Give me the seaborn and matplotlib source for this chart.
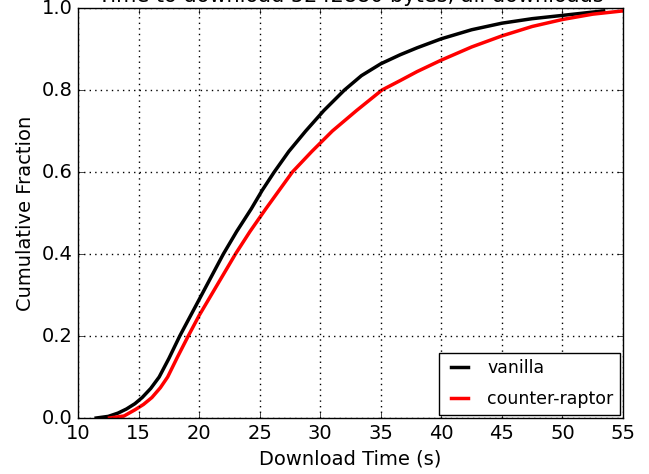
import matplotlib

matplotlib.use("Agg")
import matplotlib.pyplot as plt
import pandas as pd
import seaborn as sns

# CDF points: download time (s) vs cumulative fraction
vanilla_time = [11.5, 12.5, 13.3, 14.0, 14.7, 15.3, 16.0, 16.7, 17.5, 18.4,
                19.3, 20.2, 21.1, 22.0, 23.1, 24.3, 25.2, 26.2, 27.4, 28.8,
                30.3, 32.0, 33.4, 35.0, 36.6, 38.0, 40.0, 42.5, 45.0, 47.5,
                50.0, 53.4]
vanilla_frac = [0.0, 0.004, 0.012, 0.022, 0.035, 0.05, 0.072, 0.10, 0.145, 0.20,
                0.25, 0.30, 0.35, 0.40, 0.455, 0.51, 0.555, 0.60, 0.65, 0.70,
                0.75, 0.80, 0.835, 0.864, 0.886, 0.903, 0.925, 0.947, 0.963, 0.974,
                0.982, 0.993]

raptor_time = [12.6, 13.8, 14.7, 15.4, 16.1, 16.8, 17.4, 18.2, 19.1, 20.0,
               21.0, 22.0, 23.0, 24.2, 25.5, 26.6, 27.7, 29.3, 31.0, 33.0,
               35.1, 36.6, 38.0, 40.0, 42.5, 45.0, 47.5, 50.0, 52.5, 55.0]
raptor_frac = [0.0, 0.005, 0.02, 0.033, 0.05, 0.074, 0.10, 0.148, 0.20, 0.25,
               0.30, 0.35, 0.40, 0.455, 0.51, 0.555, 0.60, 0.65, 0.70, 0.75,
               0.80, 0.823, 0.845, 0.873, 0.905, 0.932, 0.955, 0.972, 0.985, 0.993]

series_names = ["vanilla", "counter-raptor"]
series_colors = {"vanilla": "black", "counter-raptor": "red"}
x_ticks = [10, 15, 20, 25, 30, 35, 40, 45, 50, 55]
y_ticks = [0.0, 0.2, 0.4, 0.6, 0.8, 1.0]
title = "Time to download 5242880 bytes, all downloads"

df = pd.concat([
    pd.DataFrame({"time": vanilla_time, "frac": vanilla_frac, "client": series_names[0]}),
    pd.DataFrame({"time": raptor_time, "frac": raptor_frac, "client": series_names[1]}),
])

plt.style.use("classic")
plt.rcParams["font.family"] = ["DejaVu Sans"]
plt.rcParams["figure.facecolor"] = "white"
plt.rcParams["savefig.facecolor"] = "white"

fig = plt.figure(figsize=(6.49, 4.74), dpi=100)
ax = fig.add_axes([0.1202, 0.1181, 0.8398, 0.8650])

sns.lineplot(data=df, x="time", y="frac", hue="client", hue_order=series_names,
             palette=series_colors, estimator=None, linewidth=2.5, ax=ax)

ax.set_xlim(10, 55)
ax.set_ylim(0, 1)
ax.set_xticks(x_ticks)
ax.set_yticks(y_ticks)
ax.set_yticklabels([f"{v:.1f}" for v in y_ticks])
ax.tick_params(labelsize=14, direction="in")
ax.grid(True, linestyle=":", color="black", linewidth=1)
ax.set_xlabel("Download Time (s)", fontsize=14)
ax.set_ylabel("Cumulative Fraction", fontsize=14)
# the title sits mostly above the top edge, as in the reference
ax.set_title(title, fontsize=15, pad=4)

leg = ax.legend(loc="lower right", fontsize=12.5, frameon=True, fancybox=False,
                borderaxespad=0.15, handlelength=1.6, labelspacing=0.75)
leg.get_frame().set_edgecolor("black")
for line in leg.get_lines():
    line.set_linewidth(2.5)

fig.savefig("out.png", dpi=100)
